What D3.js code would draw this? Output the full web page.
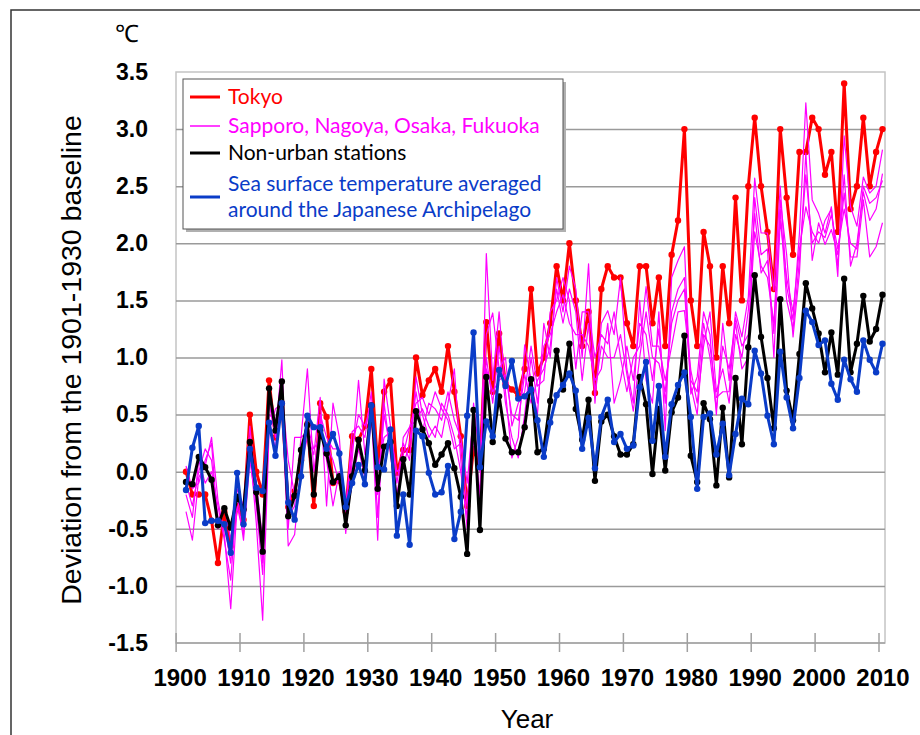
<!DOCTYPE html>
<html>
<head>
<meta charset="utf-8">
<script src="https://cdn.jsdelivr.net/npm/d3@7/dist/d3.min.js"></script>
<style>
  body { margin: 0; background: #fff; }
  svg { display: block; }
</style>
</head>
<body>
<script>
// years 1901-2010, one value per year
let years = d3.range(1901, 2011);

let tokyo = [
  0.00, -0.20, -0.20, -0.20, -0.43, -0.80, -0.35, -0.65, -0.30, -0.42,
  0.50, 0.00, -0.20, 0.80, 0.30, 0.60, -0.31, -0.17, 0.10, 0.42,
  -0.30, 0.60, 0.48, -0.10, -0.08, -0.35, 0.31, 0.28, 0.40, 0.90,
  0.04, 0.70, 0.80, -0.01, 0.19, 0.19, 1.00, 0.67, 0.80, 0.90,
  0.70, 1.10, 0.70, 0.31, -0.30, 0.20, 0.05, 1.31, 0.70, 1.21,
  0.77, 0.72, 0.67, 0.90, 1.60, 0.86, 1.00, 1.30, 1.80, 1.50,
  2.00, 1.50, 1.10, 1.40, 0.69, 1.60, 1.80, 1.70, 1.70, 1.30,
  1.10, 1.80, 1.80, 1.30, 1.70, 1.10, 1.90, 2.20, 3.00, 1.50,
  1.10, 2.10, 1.80, 1.00, 1.80, 1.30, 2.40, 1.50, 2.50, 3.10,
  2.50, 2.10, 1.60, 3.00, 2.40, 1.90, 2.80, 2.80, 3.10, 3.00,
  2.60, 2.80, 2.10, 3.40, 2.30, 2.50, 3.10, 2.50, 2.80, 3.00
];

let sapporo = [
  -0.35, -0.60, -0.05, 0.05, 0.30, -0.25, -0.55, -1.20, -0.30, -0.55,
  0.20, -0.45, -1.30, 0.35, 0.55, 0.60, -0.65, -0.55, 0.05, 0.30,
  0.15, 0.65, -0.30, 0.60, 0.30, -0.54, 0.10, 0.80, 0.15, 0.55,
  -0.60, 0.81, 0.40, -0.10, 0.25, 0.10, 0.83, 0.50, 0.30, 0.40,
  0.30, 0.60, 0.90, 0.10, -0.50, 0.30, -0.20, 1.91, 0.80, 1.40,
  0.70, 0.12, 0.30, 1.11, 0.80, 0.50, 1.30, 1.00, 1.70, 1.40,
  1.80, 1.60, 1.00, 1.82, 0.60, 1.30, 1.41, 1.20, 1.70, 0.90,
  0.60, 1.50, 0.80, 0.60, 1.40, 0.36, 1.70, 1.85, 1.97, 0.68,
  0.83, 1.40, 1.20, 0.50, 1.30, 0.80, 1.40, 1.18, 1.53, 2.57,
  2.09, 2.09, 1.59, 2.50, 1.62, 1.33, 2.09, 3.23, 2.38, 2.26,
  2.09, 2.32, 1.71, 2.94, 2.32, 2.15, 2.58, 2.44, 2.50, 2.82
];

let nagoya = [
  -0.10, -0.30, 0.00, 0.20, 0.10, -0.40, -0.45, -0.80, -0.15, -0.30,
  0.40, -0.20, -0.80, 0.60, 0.30, 0.98, -0.40, -0.30, 0.30, 0.90,
  0.00, 0.45, 0.10, -0.30, 0.00, -0.35, 0.35, 0.40, 0.30, 0.70,
  -0.20, 0.50, 0.20, -0.20, 0.15, 0.39, 0.60, 0.65, 0.50, 0.70,
  0.55, 0.45, 0.20, 0.25, -0.30, 0.60, 0.10, 1.20, 1.39, 0.90,
  1.00, 0.40, 0.60, 0.70, 1.10, 0.75, 0.80, 1.40, 1.50, 1.70,
  1.50, 0.90, 1.40, 1.40, 1.00, 1.20, 1.12, 1.40, 1.00, 0.70,
  1.00, 1.10, 1.62, 1.10, 1.10, 0.80, 1.10, 1.40, 1.41, 0.89,
  0.60, 1.10, 1.40, 0.70, 0.90, 0.60, 1.20, 1.00, 1.41, 2.26,
  1.74, 1.85, 1.21, 2.38, 1.90, 1.18, 1.74, 2.79, 1.85, 2.18,
  1.99, 2.12, 1.90, 2.44, 1.88, 1.88, 2.38, 1.88, 1.97, 2.18
];

let osaka = [
  0.05, -0.15, -0.10, 0.10, 0.25, -0.50, -0.30, -0.60, -0.05, -0.40,
  0.30, -0.10, -0.60, 0.50, 0.45, 0.70, 0.10, -0.20, 0.20, 0.40,
  0.20, 0.30, 0.25, 0.10, -0.10, -0.45, -0.10, 0.20, -0.05, 0.45,
  0.00, 0.30, 0.35, 0.00, 0.05, 0.25, 0.70, 0.35, 0.60, 0.55,
  0.45, 0.70, 0.45, 0.30, -0.10, 0.50, -0.30, 1.00, 0.60, 1.10,
  0.60, 0.30, 0.12, 0.50, 1.00, 0.60, 1.10, 1.20, 1.40, 1.55,
  1.30, 1.20, 1.20, 1.10, 0.80, 0.90, 1.30, 0.60, 0.80, 1.10,
  0.80, 1.30, 1.20, 0.80, 1.25, 0.60, 1.40, 1.60, 1.70, 0.80,
  0.70, 1.30, 1.00, 0.55, 1.10, 0.90, 1.30, 0.90, 1.00, 2.40,
  1.90, 1.95, 1.00, 2.20, 1.70, 1.40, 1.95, 2.32, 2.10, 2.00,
  2.20, 2.30, 1.80, 2.60, 1.80, 2.00, 2.45, 2.20, 2.30, 2.61
];

let fukuoka = [
  -0.20, -0.40, 0.10, -0.10, 0.00, -0.30, -0.60, -0.95, -0.20, -0.60,
  0.10, -0.30, -0.90, 0.45, 0.20, 0.80, -0.50, 0.30, 0.30, 0.35,
  -0.20, 0.50, 0.30, 0.20, 0.20, -0.30, 0.20, 0.50, 0.40, 0.60,
  -0.40, 0.60, 0.15, -0.30, 0.30, 0.39, 0.45, 0.55, 0.40, 0.30,
  0.60, 0.50, 0.30, 0.00, -0.40, 0.40, 0.00, 0.90, 0.70, 0.80,
  0.85, 0.50, 0.45, 0.85, 0.60, 0.80, 0.90, 1.10, 1.60, 1.30,
  1.60, 1.40, 0.80, 1.30, 0.70, 1.10, 1.00, 1.00, 1.20, 0.85,
  0.53, 1.00, 1.40, 1.00, 0.95, 0.70, 1.30, 1.50, 1.60, 0.75,
  0.50, 1.20, 1.10, 0.65, 0.70, 0.70, 1.35, 1.10, 1.20, 2.10,
  1.80, 1.70, 1.30, 2.30, 1.50, 1.25, 1.85, 2.60, 2.00, 2.10,
  2.05, 2.25, 1.95, 2.30, 2.00, 1.95, 2.50, 2.35, 2.40, 2.55
];

let nonUrban = [
  -0.09, -0.11, 0.13, 0.04, -0.07, -0.47, -0.32, -0.49, -0.22, -0.33,
  0.26, -0.18, -0.70, 0.73, 0.36, 0.79, -0.39, -0.21, 0.19, 0.41,
  -0.20, 0.36, 0.16, -0.09, -0.04, -0.47, -0.04, 0.28, 0.01, 0.58,
  -0.15, 0.22, 0.26, -0.30, 0.11, -0.20, 0.53, 0.37, 0.25, 0.06,
  0.15, 0.25, 0.03, -0.22, -0.72, 0.54, -0.51, 0.83, 0.26, 0.66,
  0.29, 0.17, 0.17, 0.39, 0.81, 0.17, 0.20, 0.62, 1.06, 0.72,
  1.12, 0.55, 0.28, 0.63, -0.08, 0.44, 0.50, 0.31, 0.15, 0.15,
  0.24, 0.83, 0.59, -0.02, 0.55, 0.01, 0.52, 0.65, 1.19, 0.14,
  -0.09, 0.60, 0.46, -0.12, 0.56, -0.05, 0.82, 0.24, 1.09, 1.72,
  1.18, 0.82, 0.38, 1.51, 0.71, 0.45, 1.03, 1.65, 1.43, 1.21,
  0.87, 1.22, 0.85, 1.69, 0.87, 1.12, 1.54, 1.14, 1.25, 1.55
];

let sst = [
  -0.16, 0.21, 0.40, -0.45, -0.43, -0.43, -0.46, -0.71, -0.01, -0.46,
  0.20, -0.14, -0.17, 0.43, 0.14, 0.60, -0.27, -0.42, -0.04, 0.49,
  0.39, 0.39, 0.20, 0.33, 0.16, -0.31, -0.10, 0.06, -0.11, 0.58,
  0.04, 0.02, 0.37, -0.56, -0.20, -0.64, 0.36, 0.31, -0.01, -0.20,
  -0.18, 0.05, -0.59, -0.35, 0.49, 1.22, 0.04, 0.44, 0.31, 0.89,
  0.75, 0.97, 0.64, 0.66, 0.72, 0.45, 0.13, 0.43, 0.67, 0.76,
  0.86, 0.71, 0.20, 0.47, 0.03, 0.48, 0.63, 0.26, 0.33, 0.20,
  0.23, 0.74, 0.96, 0.27, 0.75, 0.13, 0.59, 0.76, 0.87, 0.48,
  -0.15, 0.48, 0.51, 0.15, 0.42, -0.03, 0.33, 0.64, 0.59, 1.06,
  0.86, 0.49, 0.24, 1.05, 0.65, 0.38, 0.82, 1.41, 1.31, 1.11,
  1.15, 0.77, 0.63, 0.98, 0.81, 0.70, 1.15, 0.98, 0.87, 1.12
];

let yTicks = [-1.5, -1.0, -0.5, 0.0, 0.5, 1.0, 1.5, 2.0, 2.5, 3.0, 3.5];
let xTicks = [1900, 1910, 1920, 1930, 1940, 1950, 1960, 1970, 1980, 1990, 2000, 2010];

let legendItems = [
  { lines: ['Tokyo'], color: '#ff0000', width: 3 },
  { lines: ['Sapporo, Nagoya, Osaka, Fukuoka'], color: '#ff00ff', width: 1.5 },
  { lines: ['Non-urban stations'], color: '#000000', width: 3 },
  { lines: ['Sea surface temperature averaged', 'around the Japanese Archipelago'], color: '#0a3cc8', width: 3 }
];

let width = 920, height = 735;
let plot = { left: 176, top: 72, right: 885, bottom: 643 };

let svg = d3.select('body').append('svg')
  .attr('width', width)
  .attr('height', height);

// outer frame
svg.append('rect')
  .attr('x', 11).attr('y', 10)
  .attr('width', 930).attr('height', 740)
  .attr('fill', 'white')
  .attr('stroke', '#333')
  .attr('stroke-width', 1.5);

let x = d3.scaleLinear().domain([1901, 2010]).range([186, 882.5]);
let y = d3.scaleLinear().domain([-1.5, 3.5]).range([plot.bottom, plot.top]);

// plot frame
svg.append('rect')
  .attr('x', plot.left).attr('y', plot.top)
  .attr('width', plot.right - plot.left).attr('height', plot.bottom - plot.top)
  .attr('fill', 'white')
  .attr('stroke', '#c4c4c4')
  .attr('stroke-width', 1.5);

// gridlines
let grid = svg.append('g')
  .attr('transform', `translate(${plot.left}, 0)`)
  .call(d3.axisLeft(y).tickValues(yTicks.filter(t => t > -1.5 && t < 3.5))
    .tickSize(-(plot.right - plot.left)).tickFormat(''));
grid.select('.domain').remove();
grid.selectAll('line').attr('stroke', '#9a9a9a').attr('stroke-width', 1.5);

// y tick labels
let yAxis = svg.append('g')
  .attr('transform', `translate(${plot.left}, 0)`)
  .call(d3.axisLeft(y).tickValues(yTicks).tickSize(0).tickPadding(28).tickFormat(d => d.toFixed(1)));
yAxis.select('.domain').remove();
yAxis.selectAll('text')
  .attr('font-family', '"Liberation Sans", Arial, sans-serif')
  .attr('font-weight', 'bold')
  .attr('font-size', 23)
  .attr('fill', '#000');

// x axis
let xAxis = svg.append('g')
  .attr('transform', `translate(0, ${plot.bottom})`)
  .call(d3.axisBottom(x).tickValues(xTicks).tickSize(0).tickPadding(26).tickFormat(d3.format('d')));
xAxis.select('.domain')
  .attr('d', `M${plot.left},0H${plot.right}`)
  .attr('stroke', '#a0a0a0')
  .attr('stroke-width', 1.5);
xAxis.selectAll('.tick line')
  .attr('x1', -4).attr('x2', -4)
  .attr('y1', -10).attr('y2', 9)
  .attr('stroke', '#a0a0a0')
  .attr('stroke-width', 1.5);
xAxis.selectAll('text')
  .attr('font-family', '"Liberation Sans", Arial, sans-serif')
  .attr('font-weight', 'bold')
  .attr('font-size', 24)
  .attr('fill', '#000');

// axis titles
svg.append('text')
  .attr('x', 127).attr('y', 42)
  .attr('text-anchor', 'middle')
  .attr('font-family', '"Liberation Sans", Arial, sans-serif')
  .attr('font-size', 24)
  .text('℃');

svg.append('text')
  .attr('transform', 'translate(81, 360) rotate(-90)')
  .attr('text-anchor', 'middle')
  .attr('font-family', '"Liberation Sans", Arial, sans-serif')
  .attr('font-size', 28.5)
  .text('Deviation from the 1901-1930 baseline');

svg.append('text')
  .attr('x', 527).attr('y', 728)
  .attr('text-anchor', 'middle')
  .attr('font-family', '"Liberation Sans", Arial, sans-serif')
  .attr('font-size', 26)
  .text('Year');

// series
let line = d3.line().x((d, i) => x(years[i])).y(d => y(d));

let drawSeries = (values, color, w, dots) => {
  svg.append('path')
    .datum(values)
    .attr('d', line)
    .attr('fill', 'none')
    .attr('stroke', color)
    .attr('stroke-width', w)
    .attr('stroke-linejoin', 'round');
  if (dots) {
    svg.append('g').selectAll('circle')
      .data(values)
      .enter()
      .append('circle')
      .attr('cx', (d, i) => x(years[i]))
      .attr('cy', d => y(d))
      .attr('r', 3.2)
      .attr('fill', color);
  }
};

drawSeries(tokyo, '#ff0000', 3, true);
[sapporo, nagoya, osaka, fukuoka].forEach(city => drawSeries(city, '#ff00ff', 1.2, false));
drawSeries(nonUrban, '#000000', 3, true);
drawSeries(sst, '#0a3cc8', 3, true);

// legend
let legend = svg.append('g').attr('transform', 'translate(183, 79)');
legend.append('rect')
  .attr('x', 3).attr('y', 3)
  .attr('width', 380).attr('height', 150)
  .attr('fill', '#b0b0b0');
legend.append('rect')
  .attr('width', 380).attr('height', 150)
  .attr('fill', 'white')
  .attr('stroke', '#555')
  .attr('stroke-width', 1);

let rowY = [18, 47, 74, 118];
legendItems.forEach((item, i) => {
  legend.append('line')
    .attr('x1', 7).attr('x2', 37)
    .attr('y1', rowY[i]).attr('y2', rowY[i])
    .attr('stroke', item.color)
    .attr('stroke-width', item.width);
  let startY = rowY[i] - (item.lines.length - 1) * 13;
  item.lines.forEach((t, j) => {
    legend.append('text')
      .attr('x', 45)
      .attr('y', startY + j * 26)
      .attr('dy', '0.35em')
      .attr('font-family', 'Lato, "Open Sans", sans-serif')
      .attr('font-size', 21)
      .attr('fill', item.color)
      .text(t);
  });
});
</script>
</body>
</html>
